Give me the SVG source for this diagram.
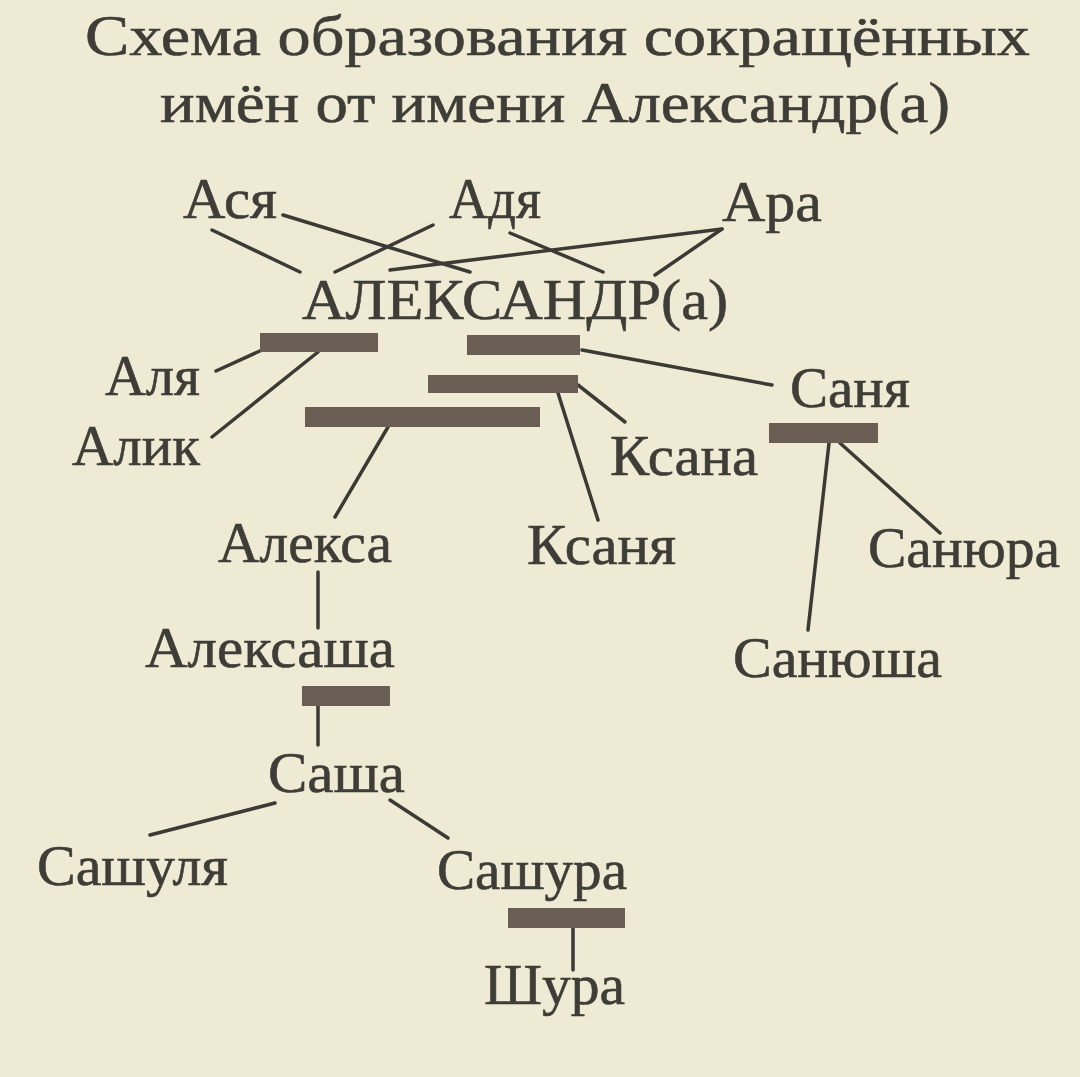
<svg xmlns="http://www.w3.org/2000/svg" width="1080" height="1077" viewBox="0 0 1080 1077">
<style>
text{font-family:"Liberation Serif","Times New Roman",serif;fill:#3e3d37;stroke:#3e3d37;stroke-width:0.6}
.t{font-size:57px}
.n{font-size:57px}
.bar{fill:#6a5d54}
.c line{stroke:#3b3a35;stroke-width:3.5;stroke-linecap:round}
</style>
<rect width="1080" height="1077" fill="#eeead3"/>
<g id="title">
<text class="t" x="85" y="55" textLength="945" lengthAdjust="spacingAndGlyphs">Схема образования сокращённых</text>
<text class="t" x="160" y="122" textLength="790" lengthAdjust="spacingAndGlyphs">имён от имени Александр(а)</text>
</g>
<g class="c" id="connectors">
<line x1="212" y1="230" x2="300" y2="272"/>
<line x1="283" y1="215" x2="470" y2="272"/>
<line x1="433" y1="225" x2="335" y2="272"/>
<line x1="510" y1="233" x2="603" y2="272"/>
<line x1="722" y1="229" x2="390" y2="270"/>
<line x1="722" y1="229" x2="655" y2="275"/>
<line x1="262" y1="350" x2="216" y2="371"/>
<line x1="318" y1="352" x2="212" y2="437"/>
<line x1="388" y1="427" x2="335" y2="517"/>
<line x1="582" y1="350" x2="772" y2="385"/>
<line x1="578" y1="385" x2="625" y2="422"/>
<line x1="558" y1="393" x2="598" y2="520"/>
<line x1="829" y1="443" x2="808" y2="630"/>
<line x1="840" y1="443" x2="940" y2="533"/>
<line x1="318" y1="572" x2="318" y2="628"/>
<line x1="318" y1="706" x2="318" y2="745"/>
<line x1="275" y1="803" x2="150" y2="835"/>
<line x1="390" y1="800" x2="448" y2="838"/>
<line x1="573" y1="928" x2="573" y2="970"/>
</g>
<g id="bars">
<rect class="bar" x="260" y="333" width="118" height="19"/>
<rect class="bar" x="467" y="335" width="113" height="20"/>
<rect class="bar" x="428" y="375" width="150" height="18"/>
<rect class="bar" x="305" y="407" width="235" height="20"/>
<rect class="bar" x="769" y="423" width="109" height="20"/>
<rect class="bar" x="302" y="686" width="88" height="20"/>
<rect class="bar" x="508" y="908" width="117" height="20"/>
</g>
<g id="n-asya"><text class="n" x="183" y="218" textLength="94" lengthAdjust="spacingAndGlyphs">Ася</text></g>
<g id="n-adya"><text class="n" x="449" y="218" textLength="92" lengthAdjust="spacingAndGlyphs">Адя</text></g>
<g id="n-ara"><text class="n" x="722" y="221" textLength="100" lengthAdjust="spacingAndGlyphs">Ара</text></g>
<g id="n-alexandr"><text class="n" x="302" y="319" textLength="426" lengthAdjust="spacingAndGlyphs">АЛЕКСАНДР(а)</text></g>
<g id="n-alya"><text class="n" x="105" y="395" textLength="95" lengthAdjust="spacingAndGlyphs">Аля</text></g>
<g id="n-alik"><text class="n" x="72" y="465" textLength="128" lengthAdjust="spacingAndGlyphs">Алик</text></g>
<g id="n-sanya"><text class="n" x="790" y="407" textLength="120" lengthAdjust="spacingAndGlyphs">Саня</text></g>
<g id="n-ksana"><text class="n" x="610" y="475" textLength="148" lengthAdjust="spacingAndGlyphs">Ксана</text></g>
<g id="n-aleksa"><text class="n" x="218" y="562" textLength="174" lengthAdjust="spacingAndGlyphs">Алекса</text></g>
<g id="n-ksanya"><text class="n" x="527" y="564" textLength="149" lengthAdjust="spacingAndGlyphs">Ксаня</text></g>
<g id="n-sanyura"><text class="n" x="868" y="567" textLength="192" lengthAdjust="spacingAndGlyphs">Санюра</text></g>
<g id="n-aleksasha"><text class="n" x="145" y="667" textLength="250" lengthAdjust="spacingAndGlyphs">Алексаша</text></g>
<g id="n-sanyusha"><text class="n" x="733" y="677" textLength="209" lengthAdjust="spacingAndGlyphs">Санюша</text></g>
<g id="n-sasha"><text class="n" x="268" y="792" textLength="137" lengthAdjust="spacingAndGlyphs">Саша</text></g>
<g id="n-sashulya"><text class="n" x="37" y="885" textLength="191" lengthAdjust="spacingAndGlyphs">Сашуля</text></g>
<g id="n-sashura"><text class="n" x="437" y="889" textLength="190" lengthAdjust="spacingAndGlyphs">Сашура</text></g>
<g id="n-shura"><text class="n" x="484" y="1004" textLength="141" lengthAdjust="spacingAndGlyphs">Шура</text></g>
</svg>
